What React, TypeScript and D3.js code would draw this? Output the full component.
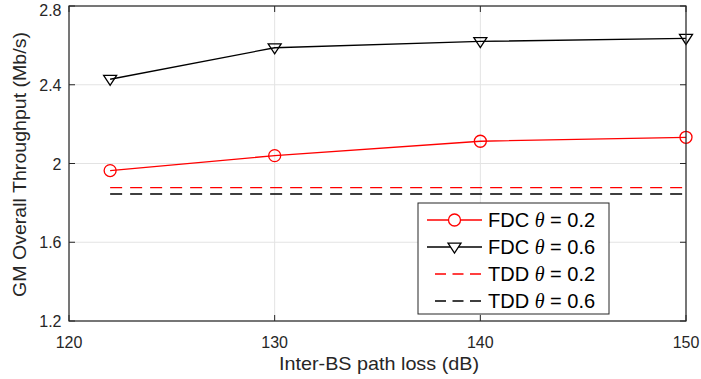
import React from "react";
import * as d3 from "d3";

const xValues = [122, 130, 140, 150];
const fdc02 = [1.964, 2.04, 2.113, 2.133];
const fdc06 = [2.428, 2.588, 2.62, 2.636];
const tdd02 = 1.877;
const tdd06 = 1.845;
const xTicks = [120, 130, 140, 150];
const yTicks = [1.2, 1.6, 2, 2.4, 2.8];
const legendItems = [
  { label: "FDC", theta: "0.2", color: "#ff0000", dash: false, marker: "circle" },
  { label: "FDC", theta: "0.6", color: "#000000", dash: false, marker: "triangle" },
  { label: "TDD", theta: "0.2", color: "#ff0000", dash: true, marker: "none" },
  { label: "TDD", theta: "0.6", color: "#000000", dash: true, marker: "none" },
];

const W = 701, H = 379;
const L = 69, R = 686, T = 6, B = 321;

export default function App() {
  const x = d3.scaleLinear().domain([120, 150]).range([L, R]);
  const y = d3.scaleLinear().domain([1.2, 2.8]).range([B, T]);
  const line = d3.line<number>().x((_, i) => x(xValues[i])).y((d) => y(d));
  const font = "'Liberation Sans', Arial, Helvetica, sans-serif";
  const serif = "'Liberation Serif', 'DejaVu Serif', serif";
  const tri = (cx: number, cy: number, s = 6.5) =>
    `M${cx - s},${cy - s * 0.6} L${cx + s},${cy - s * 0.6} L${cx},${cy + s * 0.95} Z`;
  const x0 = xValues[0], x1 = xValues[xValues.length - 1];
  return (
    <svg width={W} height={H} style={{ position: "absolute", left: 0, top: 0, background: "#fff" }}>
      <rect x={0} y={0} width={W} height={H} fill="#fff" />
      {xTicks.map((t) => (
        <line key={"gx" + t} x1={x(t)} x2={x(t)} y1={T} y2={B} stroke="#e3e3e3" strokeWidth={1} />
      ))}
      {yTicks.map((t) => (
        <line key={"gy" + t} x1={L} x2={R} y1={y(t)} y2={y(t)} stroke="#e3e3e3" strokeWidth={1} />
      ))}
      {/* TDD dashed */}
      <line x1={x(x0)} x2={x(x1)} y1={y(tdd02)} y2={y(tdd02)} stroke="#ff0000" strokeWidth={1.3} strokeDasharray="12,8" />
      <line x1={x(x0)} x2={x(x1)} y1={y(tdd06)} y2={y(tdd06)} stroke="#000" strokeWidth={1.3} strokeDasharray="12,8" />
      {/* FDC lines */}
      <path d={line(fdc02) || ""} fill="none" stroke="#ff0000" strokeWidth={1.3} />
      <path d={line(fdc06) || ""} fill="none" stroke="#000" strokeWidth={1.3} />
      {fdc02.map((v, i) => (
        <circle key={"c" + i} cx={x(xValues[i])} cy={y(v)} r={6} fill="none" stroke="#ff0000" strokeWidth={1.3} />
      ))}
      {fdc06.map((v, i) => (
        <path key={"t" + i} d={tri(x(xValues[i]), y(v))} fill="none" stroke="#000" strokeWidth={1.3} />
      ))}
      {/* axes box */}
      <rect x={L} y={T} width={R - L} height={B - T} fill="none" stroke="#262626" strokeWidth={1.2} />
      {xTicks.map((t) => (
        <g key={"xt" + t}>
          <line x1={x(t)} x2={x(t)} y1={B} y2={B - 6} stroke="#262626" />
          <line x1={x(t)} x2={x(t)} y1={T} y2={T + 6} stroke="#262626" />
          <text x={x(t)} y={347.5} textAnchor="middle" fontSize={16} fontFamily={font} fill="#262626">{t}</text>
        </g>
      ))}
      {yTicks.map((t) => (
        <g key={"yt" + t}>
          <line x1={L} x2={L + 6} y1={y(t)} y2={y(t)} stroke="#262626" />
          <line x1={R} x2={R - 6} y1={y(t)} y2={y(t)} stroke="#262626" />
          <text x={61.5} y={t === 2.8 ? 15.5 : y(t) + 6} textAnchor="end" fontSize={16} fontFamily={font} fill="#262626">{t === 2 ? "2" : t.toFixed(1)}</text>
        </g>
      ))}
      <text x={379} y={370} textAnchor="middle" fontSize={19} textLength={200} lengthAdjust="spacingAndGlyphs" fontFamily={font} fill="#262626">Inter-BS path loss (dB)</text>
      <text transform={`translate(26,164.5) rotate(-90)`} textAnchor="middle" fontSize={19} textLength={265} lengthAdjust="spacingAndGlyphs" fontFamily={font} fill="#262626">GM Overall Throughput (Mb/s)</text>
      {/* legend */}
      <rect x={418} y={203} width={191} height={111} fill="#fff" stroke="#262626" strokeWidth={1} />
      {legendItems.map((it, i) => {
        const cy = 220 + i * 27;
        const by = cy + 7;
        return (
          <g key={"lg" + i}>
            <line x1={it.dash ? 435 : 427} x2={482} y1={cy} y2={cy} stroke={it.color} strokeWidth={1.3} strokeDasharray={it.dash ? "11,6.5" : undefined} />
            {it.marker === "circle" && <circle cx={454.5} cy={cy} r={6} fill="#fff" stroke={it.color} strokeWidth={1.3} />}
            {it.marker === "triangle" && <path d={tri(454.5, cy)} fill="#fff" stroke={it.color} strokeWidth={1.3} />}
            <text x={488} y={by} fontSize={20} fontFamily={font} fill="#000">
              {it.label + " "}
              <tspan fontStyle="italic" fontFamily={serif}>θ</tspan>
              {" = " + it.theta}
            </text>
          </g>
        );
      })}
    </svg>
  );
}
